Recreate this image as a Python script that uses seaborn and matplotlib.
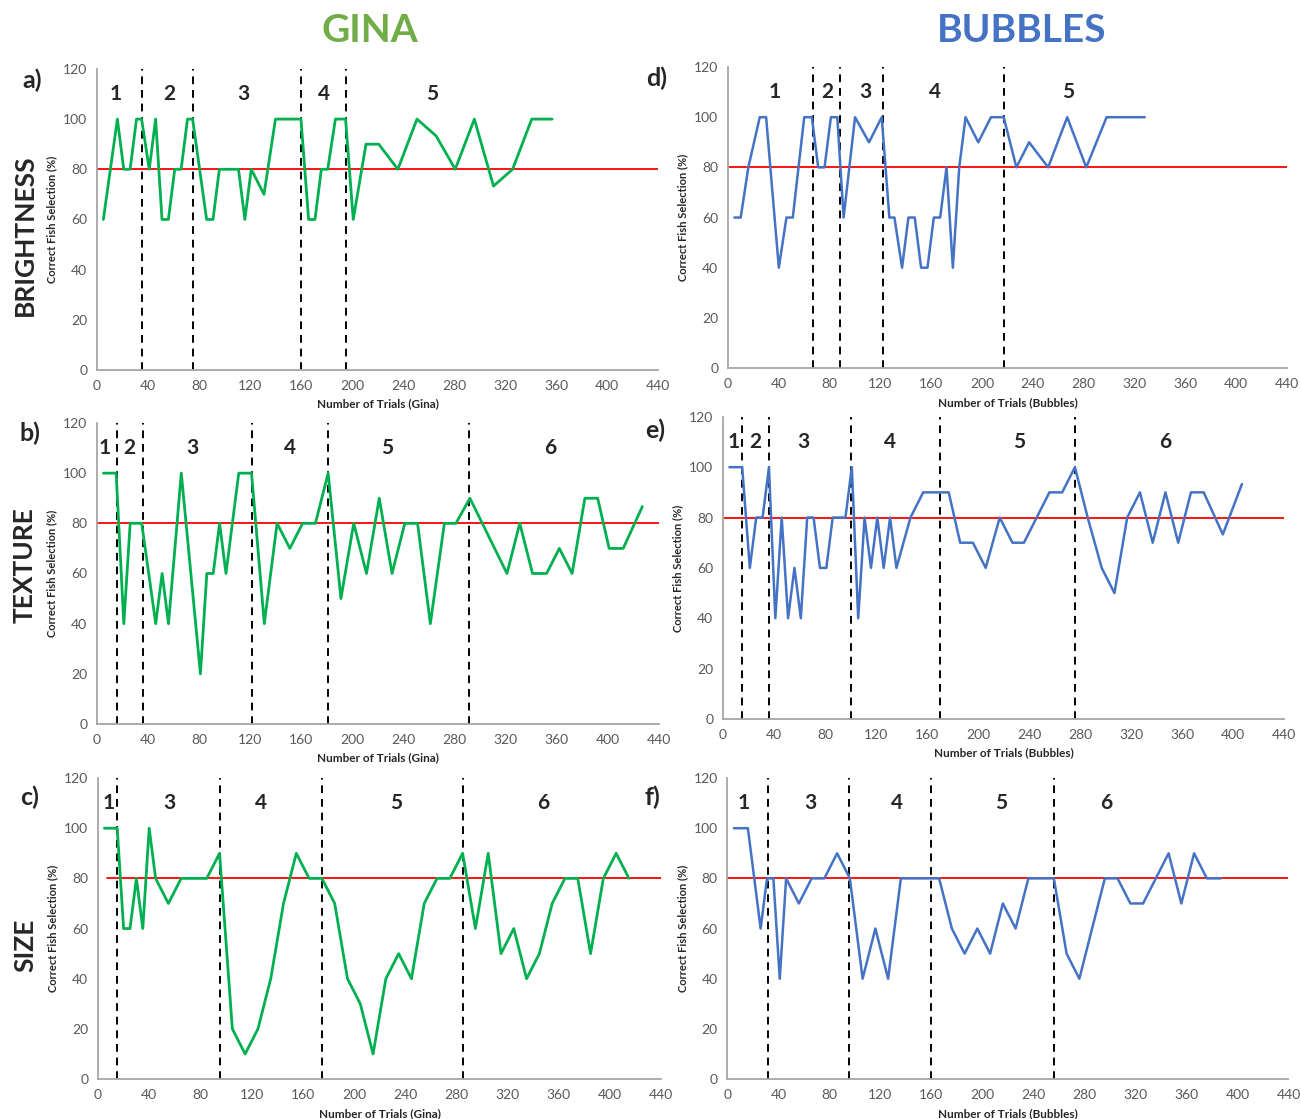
import matplotlib
matplotlib.use("Agg")
import matplotlib.pyplot as plt
import seaborn as sns
import pandas as pd

# ---- values ----
# Gina, brightness
gina_bright_x = [5, 16, 21, 26, 31, 35, 41, 46, 51, 56, 61, 66, 71, 75, 86, 91, 96, 111, 116, 121,
                 131, 140, 160, 166, 171, 176, 181, 187, 195, 201, 211, 221, 236, 251, 266, 281, 296, 311, 326, 341, 357]
gina_bright_y = [60, 100, 80, 80, 100, 100, 80, 100, 60, 60, 80, 80, 100, 100, 60, 60, 80, 80, 60, 80,
                 70, 100, 100, 60, 60, 80, 80, 100, 100, 60, 90, 90, 80, 100, 93.3, 80, 100, 73.3, 80, 100, 100]
gina_bright_phases = [35, 75, 160, 195]
gina_bright_names = ['1', '2', '3', '4', '5']

# Gina, texture
gina_texture_x = [5, 15, 21, 26, 35, 46, 51, 56, 66, 81, 86, 91, 96, 101, 111, 121, 131, 141, 151, 161,
                  171, 181, 191, 201, 211, 221, 231, 241, 251, 261, 272, 281, 292, 321, 331, 341, 352, 362, 372, 382,
                  392, 401, 412, 427]
gina_texture_y = [100, 100, 40, 80, 80, 40, 60, 40, 100, 20, 60, 60, 80, 60, 100, 100, 40, 80, 70, 80,
                  80, 100, 50, 80, 60, 90, 60, 80, 80, 40, 80, 80, 90, 60, 80, 60, 60, 70, 60, 90,
                  90, 70, 70, 86.7]
gina_texture_phases = [16, 36, 121, 181, 291]
gina_texture_names = ['1', '2', '3', '4', '5', '6']

# Gina, size
gina_size_x = [5, 15, 20, 25, 30, 35, 40, 45, 55, 65, 75, 85, 95, 105, 115, 125, 135, 145, 155, 165,
               175, 185, 195, 205, 215, 225, 235, 245, 255, 265, 275, 285, 295, 305, 315, 325, 335, 345, 355, 365,
               375, 385, 395, 405, 415]
gina_size_y = [100, 100, 60, 60, 80, 60, 100, 80, 70, 80, 80, 80, 90, 20, 10, 20, 40, 70, 90, 80,
               80, 70, 40, 30, 10, 40, 50, 40, 70, 80, 80, 90, 60, 90, 50, 60, 40, 50, 70, 80,
               80, 50, 80, 90, 80]
gina_size_phases = [15, 95, 175, 285]
gina_size_names = ['1', '3', '4', '5', '6']

# Bubbles, brightness
bub_bright_x = [5, 10, 16, 25, 30, 40, 46, 51, 60, 66, 71, 76, 81, 86, 91, 100, 111, 121, 127, 131,
                137, 142, 147, 152, 157, 162, 167, 172, 177, 182, 187, 197, 207, 217, 227, 237, 252, 267, 282, 298, 328]
bub_bright_y = [60, 60, 80, 100, 100, 40, 60, 60, 100, 100, 80, 80, 100, 100, 60, 100, 90, 100, 60, 60,
                40, 60, 60, 40, 40, 60, 60, 80, 40, 80, 100, 90, 100, 100, 80, 90, 80, 100, 80, 100, 100]
bub_bright_phases = [67, 88, 122, 217]
bub_bright_names = ['1', '2', '3', '4', '5']

# Bubbles, texture
bub_texture_x = [5, 15, 21, 26, 31, 36, 41, 46, 51, 56, 61, 66, 71, 76, 81, 86, 96, 101, 106, 111,
                 116, 121, 126, 131, 136, 147, 157, 177, 186, 196, 206, 217, 227, 236, 246, 256, 266, 276, 286, 297,
                 307, 317, 327, 337, 347, 357, 367, 377, 392, 407]
bub_texture_y = [100, 100, 60, 80, 80, 100, 40, 80, 40, 60, 40, 80, 80, 60, 60, 80, 80, 100, 40, 80,
                 60, 80, 60, 80, 60, 80, 90, 90, 70, 70, 60, 80, 70, 70, 80, 90, 90, 100, 80, 60,
                 50, 80, 90, 70, 90, 70, 90, 90, 73.3, 93.3]
bub_texture_phases = [15, 36, 100, 170, 276]
bub_texture_names = ['1', '2', '3', '4', '5', '6']

# Bubbles, size
bub_size_x = [5, 16, 26, 31, 36, 41, 46, 56, 66, 76, 86, 96, 106, 116, 126, 136, 166, 176, 186, 196,
              206, 216, 226, 236, 256, 266, 276, 296, 306, 316, 326, 336, 346, 356, 366, 376, 387]
bub_size_y = [100, 100, 60, 80, 80, 40, 80, 70, 80, 80, 90, 80, 40, 60, 40, 80, 80, 60, 50, 60,
              50, 70, 60, 80, 80, 50, 40, 80, 80, 70, 70, 80, 90, 70, 90, 80, 80]
bub_size_phases = [32, 95, 160, 256]
bub_size_names = ['1', '3', '4', '5', '6']

criterion = 80

sns.set_style("white")
plt.rcParams['font.family'] = ['Lato', 'DejaVu Sans']

GREEN = '#00B050'
BLUE = '#4472C4'
AXIS_GREY = '#A6A6A6'
TICK_GREY = '#595959'

fig = plt.figure(figsize=(13, 11.19), dpi=100)

# rect, data, colour, line width, phases, phase names, where phase names sit, subject, criterion start
panels = [
    ([0.0746, 0.6694, 0.4315, 0.269], gina_bright_x, gina_bright_y, GREEN, 2.0, gina_bright_phases,
     gina_bright_names, [15, 57, 115, 178, 263], 'Gina', 0),
    ([0.0746, 0.3530, 0.4323, 0.269], gina_texture_x, gina_texture_y, GREEN, 2.0, gina_texture_phases,
     gina_texture_names, [6, 25, 75, 151, 227, 355], 'Gina', 0),
    ([0.0754, 0.0357, 0.4330, 0.269], gina_size_x, gina_size_y, GREEN, 2.0, gina_size_phases,
     gina_size_names, [8, 56, 127, 233, 348], 'Gina', 7),
    ([0.5600, 0.6711, 0.4300, 0.269], bub_bright_x, bub_bright_y, BLUE, 1.8, bub_bright_phases,
     bub_bright_names, [37, 78, 108, 163, 268], 'Bubbles', 0),
    ([0.5562, 0.3575, 0.4315, 0.270], bub_texture_x, bub_texture_y, BLUE, 1.8, bub_texture_phases,
     bub_texture_names, [8, 25, 63, 131, 232, 347], 'Bubbles', 0),
    ([0.5596, 0.0357, 0.4315, 0.269], bub_size_x, bub_size_y, BLUE, 1.8, bub_size_phases,
     bub_size_names, [13, 65, 133, 215, 297], 'Bubbles', 0),
]

for rect, xs, ys, color, lw, phases, names, name_x, who, crit_start in panels:
    ax = fig.add_axes(rect)
    df = pd.DataFrame({'trials': xs, 'pct': ys})

    # phase boundaries and the 80% criterion
    for b in phases:
        ax.axvline(b, color='black', linestyle=(0, (4, 3)), linewidth=1.4, zorder=1)
    ax.axhline(criterion, xmin=crit_start / 440, xmax=1, color='red', linewidth=1.3, zorder=2)
    sns.lineplot(data=df, x='trials', y='pct', ax=ax, color=color, linewidth=lw,
                 estimator=None, sort=False, zorder=3)

    for lab, lx in zip(names, name_x):
        ax.text(lx, 110, lab, ha='center', va='center', fontsize=15, fontweight='bold')

    ax.set_xlim(0, 440)
    ax.set_ylim(0, 120)
    ax.set_xticks(range(0, 441, 40))
    ax.set_yticks(range(0, 121, 20))
    ax.tick_params(length=0, labelsize=10, labelcolor=TICK_GREY, pad=7)
    for s in ['top', 'right']:
        ax.spines[s].set_visible(False)
    for s in ['left', 'bottom']:
        ax.spines[s].set_color(AXIS_GREY)
        ax.spines[s].set_linewidth(1.3)
    ax.set_xlabel(f'Number of Trials ({who})', fontsize=8.5, fontweight='bold', labelpad=5)
    ax.set_ylabel('Correct Fish Selection (%)', fontsize=8, fontweight='bold', labelpad=4)

# column titles
fig.text(0.2846, 0.973, 'GINA', color='#70AD47', fontsize=28, fontweight='bold', ha='center', va='center')
fig.text(0.786, 0.973, 'BUBBLES', color=BLUE, fontsize=28, fontweight='bold', ha='center', va='center')

# row titles
for txt, yy in [('BRIGHTNESS', 0.79), ('TEXTURE', 0.495), ('SIZE', 0.155)]:
    fig.text(0.0192, yy, txt, rotation=90, fontsize=19, fontweight='bold', ha='center', va='center')

# panel letters
for txt, xx, yy in [('a)', 0.0246, 0.9285), ('b)', 0.023, 0.613), ('c)', 0.023, 0.2878),
                    ('d)', 0.505, 0.930), ('e)', 0.504, 0.6157), ('f)', 0.5015, 0.2878)]:
    fig.text(xx, yy, txt, fontsize=18, fontweight='bold', ha='center', va='center')

fig.savefig('out.png', dpi=100)
